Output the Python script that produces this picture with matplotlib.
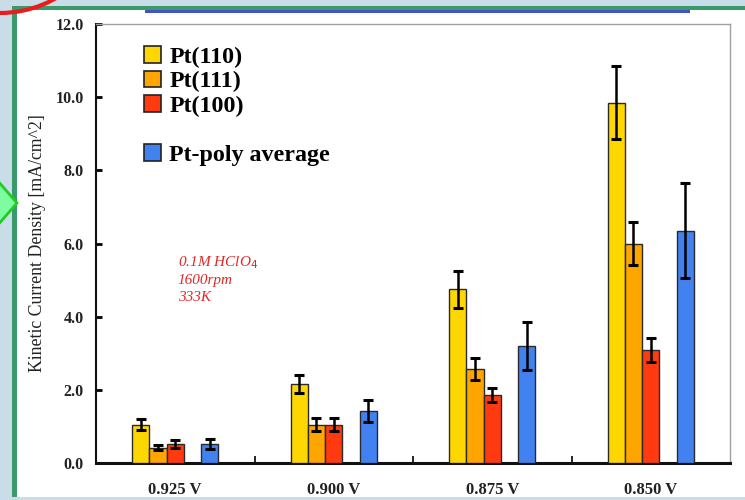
import matplotlib.pyplot as plt
from matplotlib.patches import Patch, Rectangle, Ellipse, Polygon
import numpy as np

# data
potentials = ["0.925 V", "0.900 V", "0.875 V", "0.850 V"]
pt110 = [1.05, 2.15, 4.75, 9.85]
pt110_err = [0.15, 0.25, 0.50, 1.00]
pt111 = [0.42, 1.05, 2.57, 6.00]
pt111_err = [0.06, 0.17, 0.30, 0.60]
pt100 = [0.52, 1.05, 1.86, 3.08]
pt100_err = [0.10, 0.17, 0.20, 0.33]
ptpoly = [0.52, 1.43, 3.20, 6.35]
ptpoly_err = [0.13, 0.30, 0.65, 1.30]

W, H = 745, 500


def fx(px):
    return px / W


def fy(py):
    return 1 - py / H


fig = plt.figure(figsize=(7.45, 5.0), dpi=100, facecolor="#c9dde9")

# slide decorations (drawn under the axes)
fig.patches.append(Rectangle((fx(17), fy(497)), fx(745) - fx(17), fy(10) - fy(497),
                             transform=fig.transFigure, facecolor="white",
                             edgecolor="none", zorder=-3))
fig.patches.append(Rectangle((fx(12), fy(497)), fx(5), fy(0) - fy(487),
                             transform=fig.transFigure, facecolor="#3b9a6c",
                             edgecolor="none", zorder=-2))
fig.patches.append(Rectangle((fx(12), fy(10)), fx(745) - fx(12), fy(0) - fy(4),
                             transform=fig.transFigure, facecolor="#3b9a6c",
                             edgecolor="none", zorder=-2))
fig.patches.append(Rectangle((fx(145), fy(13)), fx(690) - fx(145), fy(0) - fy(3),
                             transform=fig.transFigure, facecolor="#4352c4",
                             edgecolor="none", zorder=-2))
fig.patches.append(Ellipse((fx(0), fy(-100)), 2 * 113 / W, 2 * 113 / H,
                           transform=fig.transFigure, facecolor="none",
                           edgecolor="#e81c1c", lw=3, zorder=-1))
fig.patches.append(Polygon([(fx(17), fy(203)), (fx(-3), fy(180)), (fx(-3), fy(226))],
                           closed=True, transform=fig.transFigure,
                           facecolor="#7dfca0", edgecolor="#22cc22", lw=2, zorder=-1))

ax = fig.add_axes([fx(96), fy(463), fx(730) - fx(96), fy(24) - fy(463)])
ax.set_zorder(5)
ax.set_facecolor("white")

serif = "Liberation Serif"
x = np.arange(len(potentials))
w = 0.109
err_kw = dict(ecolor="black", elinewidth=1.8, capsize=3.5, capthick=2.2)
series = [
    (pt110, pt110_err, -2 * w, "#ffd700", "Pt(110)"),
    (pt111, pt111_err, -1 * w, "#ffa500", "Pt(111)"),
    (pt100, pt100_err, 0.0, "#ff3a10", "Pt(100)"),
    (ptpoly, ptpoly_err, 2 * w, "#4282f0", "Pt-poly average"),
]
for vals, errs, off, color, name in series:
    ax.bar(x + off, vals, w, yerr=errs, color=color, edgecolor="#2a2a2a",
           linewidth=1.0, error_kw=err_kw, zorder=3)

ax.set_xlim(-0.5, 3.5)
ax.set_ylim(0, 12)
ax.set_yticks(np.arange(0, 12.1, 2))
ax.set_yticklabels([f"{v:.1f}" for v in np.arange(0, 12.1, 2)],
                   fontfamily=serif, fontweight="bold", fontsize=11.5, color="#222222")
ax.set_xticks(x)
ax.set_xticklabels(potentials, fontfamily=serif, fontweight="bold",
                   fontsize=12, color="#222222")
ax.set_xticks([0.5, 1.5, 2.5], minor=True)
ax.tick_params(axis="x", which="major", length=0, pad=14)
ax.tick_params(axis="x", which="minor", direction="in", length=5, width=1.2)
ax.tick_params(axis="y", direction="in", length=4, width=2, pad=9)

ax.spines["left"].set_linewidth(1.5)
ax.spines["bottom"].set_linewidth(2.2)
ax.spines["left"].set_color("#111111")
ax.spines["bottom"].set_color("#111111")
ax.spines["top"].set_color("#a0a0a0")
ax.spines["right"].set_color("#a0a0a0")
ax.spines["top"].set_linewidth(1.0)
ax.spines["right"].set_linewidth(1.0)

ax.set_ylabel("Kinetic Current Density [mA/cm^2]", fontfamily=serif,
              fontsize=12.8, color="#222222", labelpad=7)

handles = [Patch(facecolor=c, edgecolor="#222222", lw=1.2) for _, _, _, c, _ in series[:3]]
labels = [s[4] for s in series[:3]]
handles.append(Patch(facecolor="none", edgecolor="none"))
labels.append(" ")
handles.append(Patch(facecolor=series[3][3], edgecolor="#222222", lw=1.2))
labels.append(series[3][4])
ax.legend(handles, labels, loc="upper left", bbox_to_anchor=(0.076, 0.95),
          frameon=False, borderpad=0, borderaxespad=0, labelspacing=0.115,
          handlelength=0.7, handleheight=0.7, handletextpad=0.35,
          prop=dict(family=serif, weight="bold", size=17.3))

ax.text(0.129, 0.419, "0.1M HClO$_4$\n1600rpm\n333K", transform=ax.transAxes,
        fontfamily=serif, style="italic", fontsize=11, color="#e02828",
        linespacing=1.35, va="center", ha="left")

fig.savefig("out.png", dpi=100, facecolor=fig.get_facecolor())
